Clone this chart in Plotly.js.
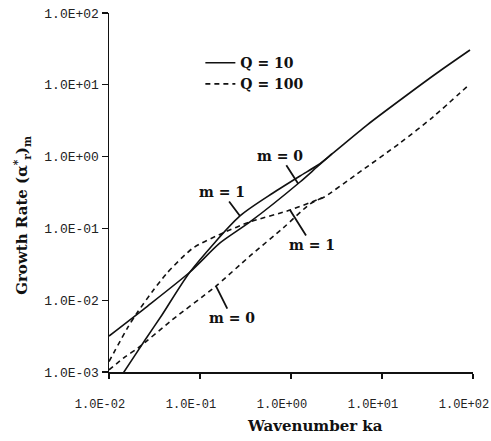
<!DOCTYPE html>
<html>
<head>
<meta charset="utf-8">
<script src="https://cdn.plot.ly/plotly-3.0.1.min.js"></script>
<style>
html,body{margin:0;padding:0;background:#fff;}
#chart{width:491px;height:441px;}
</style>
</head>
<body>
<div id="chart"></div>
<script>
// Q = 10, m = 1 (solid)
const ka_q10_m1 = [0.01256, 0.0146, 0.0249, 0.0382, 0.0776, 0.275, 0.634, 1.256, 1.98, 2.82, 6.84, 18.8, 40.2, 92.7];
const g_q10_m1  = [0.00075, 0.001, 0.00279, 0.00622, 0.0247, 0.149, 0.311, 0.537, 0.763, 1.09, 2.75, 7.21, 14.6, 30.5];
// Q = 10, m = 0 (solid)
const ka_q10_m0 = [0.01, 0.0249, 0.0776, 0.166, 0.354, 1.256, 1.93, 2.82];
const g_q10_m0  = [0.00317, 0.00778, 0.0247, 0.0627, 0.123, 0.443, 0.716, 1.09];
// Q = 100, m = 1 (dashed)
const ka_q100_m1 = [0.01, 0.0162, 0.0203, 0.0297, 0.0434, 0.0838, 0.179, 0.354, 0.975, 1.93, 2.3, 5.31, 15.8, 36.3, 92.7];
const g_q100_m1  = [0.0014, 0.00424, 0.00664, 0.0130, 0.0239, 0.0533, 0.0863, 0.123, 0.180, 0.249, 0.272, 0.573, 1.55, 3.56, 10.3];
// Q = 100, m = 0 (dashed)
const ka_q100_m0 = [0.01, 0.0150, 0.0209, 0.0492, 0.146, 0.354, 0.817, 1.62, 2.3];
const g_q100_m0  = [0.00107, 0.00162, 0.00216, 0.00530, 0.0153, 0.0413, 0.101, 0.219, 0.272];

const xTickVals = [0.01, 0.1, 1, 10, 100];
const xTickText = ["1.0E-02", "1.0E-01", "1.0E+00", "1.0E+01", "1.0E+02"];
const yTickVals = [0.001, 0.01, 0.1, 1, 10, 100];
const yTickText = ["1.0E-03", "1.0E-02", "1.0E-01", "1.0E+00", "1.0E+01", "1.0E+02"];

const ink = "#111";
const solid = {color: ink, width: 1.6, shape: "spline", smoothing: 0.7};
const dashed = {color: ink, width: 1.6, dash: "5px,4px", shape: "spline", smoothing: 0.7};

const traces = [
  {x: ka_q10_m1, y: g_q10_m1, mode: "lines", line: solid, name: "Q = 10", showlegend: true},
  {x: ka_q10_m0, y: g_q10_m0, mode: "lines", line: solid, showlegend: false},
  {x: ka_q100_m1, y: g_q100_m1, mode: "lines", line: dashed, name: "Q = 100", showlegend: true},
  {x: ka_q100_m0, y: g_q100_m0, mode: "lines", line: dashed, showlegend: false}
];

const lblFont = {family: "DejaVu Serif", size: 14, color: ink, weight: "bold"};
function mLabel(text, x, y, ax, ay) {
  return {text: text, x: Math.log10(x), y: Math.log10(y), xref: "x", yref: "y",
          axref: "pixel", ayref: "pixel",
          showarrow: true, arrowhead: 0, arrowwidth: 1.8, arrowcolor: ink,
          ax: ax, ay: ay, font: lblFont, standoff: 0};
}

const layout = {
  width: 491, height: 441,
  margin: {l: 109, r: 18, t: 13, b: 69},
  paper_bgcolor: "#fff", plot_bgcolor: "#fff",
  showlegend: true,
  legend: {x: 0.251, y: 0.905, xanchor: "left", yanchor: "top",
           font: {family: "DejaVu Serif", size: 14, color: ink, weight: "bold"},
           bgcolor: "rgba(0,0,0,0)", itemwidth: 30, tracegroupgap: 0},
  xaxis: {type: "log", range: [-2, 2], tickvals: xTickVals, ticktext: xTickText,
          showgrid: false, zeroline: false, showline: true, linecolor: ink, linewidth: 1.5,
          ticks: "outside", ticklen: 5, tickwidth: 1.2, tickcolor: ink,
          tickfont: {family: "Liberation Mono", size: 12, color: "#222"},
          ticklabelstandoff: 15, ticklabelshift: -9},
  yaxis: {type: "log", range: [-3, 2], tickvals: yTickVals, ticktext: yTickText,
          showgrid: false, zeroline: false, showline: true, linecolor: ink, linewidth: 1.5,
          ticks: "outside", ticklen: 6, tickwidth: 1.2, tickcolor: ink,
          tickfont: {family: "Liberation Mono", size: 13, color: "#222"}},
  annotations: [
    mLabel("m = 0", 1.2, 0.42, -18, -28),
    mLabel("m = 1", 0.275, 0.149, -18, -24),
    mLabel("m = 1", 0.975, 0.180, 22, 35),
    mLabel("m = 0", 0.15, 0.0157, 16, 32),
    {text: "Wavenumber ka", xref: "paper", yref: "paper", x: 0.566, y: -0.150,
     xanchor: "center", yanchor: "middle", showarrow: false,
     font: {family: "DejaVu Serif", size: 15, color: ink, weight: "bold"}},
    {text: "Growth Rate (α<sup>*</sup><sub>r</sub>)<sub>m</sub>", xref: "paper", yref: "paper",
     x: -0.239, y: 0.435, xanchor: "center", yanchor: "middle", textangle: -90, showarrow: false,
     font: {family: "DejaVu Serif", size: 15, color: ink, weight: "bold"}}
  ]
};

Plotly.newPlot("chart", traces, layout, {staticPlot: true, displayModeBar: false});
</script>
</body>
</html>
